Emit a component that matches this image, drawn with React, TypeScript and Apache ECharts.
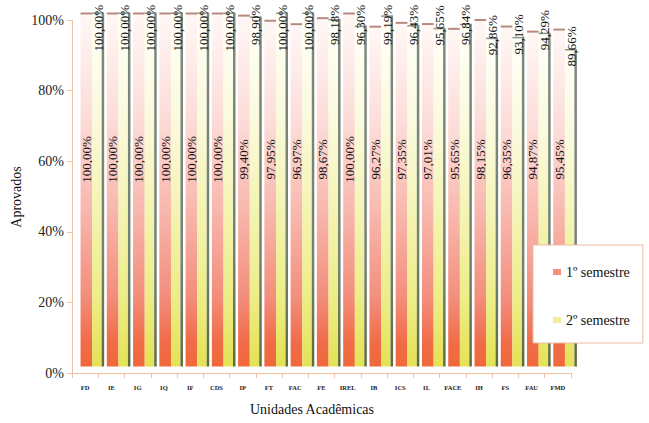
import React, { useEffect, useRef } from "react";
import * as echarts from "echarts";

const categories = ["FD", "IE", "IG", "IQ", "IF", "CDS", "IP", "FT", "FAC", "FE", "IREL", "IB", "ICS", "IL", "FACE", "IH", "FS", "FAU", "FMD"];
const sem1 = [100, 100, 100, 100, 100, 100, 99.4, 97.95, 96.97, 98.67, 100, 96.27, 97.35, 97.01, 95.65, 98.15, 96.35, 94.87, 95.45];
const sem2 = [100, 100, 100, 100, 100, 100, 98.9, 100, 100, 98.18, 96.3, 99.19, 96.43, 95.65, 96.84, 92.86, 93.1, 94.29, 89.66];
const seriesNames = ["1º semestre", "2º semestre"];
const yAxisTitle = "Aprovados";
const xAxisTitle = "Unidades Acadêmicas";

const FONT = "Liberation Serif";
const DEPTH = 6.5;
const LABEL1_AT = 60.5;
const AXIS_COLOR = "#efc2a4";

const fmt = (v: number) => v.toFixed(2).replace(".", ",") + "%";

const grad1 = () =>
  new echarts.graphic.LinearGradient(0, 0, 0, 1, [
    { offset: 0, color: "#fff8f6" },
    { offset: 0.3, color: "#fcdcd8" },
    { offset: 0.55, color: "#f8b8ae" },
    { offset: 0.8, color: "#f38e7c" },
    { offset: 0.93, color: "#f06c48" },
    { offset: 1, color: "#f0683a" },
  ]);
const grad2 = () =>
  new echarts.graphic.LinearGradient(0, 0, 0, 1, [
    { offset: 0, color: "#fffffa" },
    { offset: 0.3, color: "#fafadc" },
    { offset: 0.55, color: "#f4f4b4" },
    { offset: 0.8, color: "#eded88" },
    { offset: 1, color: "#e4e255" },
  ]);
const gradSide = () =>
  new echarts.graphic.LinearGradient(0, 0, 0, 1, [
    { offset: 0, color: "#7f897f" },
    { offset: 0.7, color: "#748070" },
    { offset: 1, color: "#5e6b3e" },
  ]);

const textStyle = (text: string, size = 13) => ({
  text,
  font: `${size}px ${FONT}`,
  fontSize: size,
  fontFamily: FONT,
  fill: "#111",
  align: "center",
  verticalAlign: "middle",
  textAlign: "center",
  textVerticalAlign: "middle",
});

function render1(params: any, api: any) {
  const i = api.value(0);
  const v = api.value(1);
  const base = api.coord([i, 0]);
  const top = api.coord([i, v]);
  const lab = api.coord([i, LABEL1_AT]);
  const bw = api.size([1, 0])[0];
  const x0 = base[0] - bw * 0.175;
  const w = bw * 0.445;
  return {
    type: "group",
    children: [
      { type: "rect", shape: { x: x0, y: top[1] - DEPTH, width: w, height: base[1] - top[1] }, style: { fill: grad1() } },
      { type: "rect", shape: { x: x0, y: top[1] - DEPTH - 1, width: w, height: 2 }, style: { fill: "#b9897f" } },
      { type: "text", x: x0 + w / 2, y: lab[1], rotation: Math.PI / 2, style: textStyle(fmt(v)) },
    ],
  };
}

function render2(params: any, api: any) {
  const i = api.value(0);
  const v = api.value(1);
  const base = api.coord([i, 0]);
  const top = api.coord([i, v]);
  const bw = api.size([1, 0])[0];
  const x0 = base[0] + bw * 0.267;
  const w = bw * 0.363;
  const sx = x0 + w;
  const sw = bw * 0.095;
  const txt = fmt(v);
  const len = txt.length * 6.65;
  const ly = Math.max(top[1] - 10, 5 + len / 2);
  return {
    type: "group",
    children: [
      { type: "rect", shape: { x: x0, y: top[1] - DEPTH, width: w, height: base[1] - top[1] }, style: { fill: grad2() } },
      { type: "rect", shape: { x: sx, y: top[1] - DEPTH - 1, width: sw, height: base[1] - top[1] + 1 }, style: { fill: gradSide() } },
      { type: "rect", shape: { x: x0, y: top[1] - DEPTH - 1, width: w, height: 1.5 }, style: { fill: "#8c968c" } },
      { type: "text", x: base[0] + bw * 0.5, y: ly, rotation: Math.PI / 2, style: textStyle(txt) },
    ],
  };
}

export default function App() {
  const ref = useRef<HTMLDivElement>(null);
  useEffect(() => {
    document.body.style.margin = "0";
    const chart = echarts.init(ref.current!, null, { renderer: "svg" });
    chart.setOption({
      animation: false,
      backgroundColor: "#ffffff",
      textStyle: { fontFamily: FONT },
      grid: { left: 72, right: 78, top: 20, bottom: 50 },
      xAxis: {
        type: "category",
        data: categories,
        boundaryGap: true,
        axisLine: { lineStyle: { color: AXIS_COLOR, width: 1 } },
        axisTick: { show: true, length: 5, lineStyle: { color: AXIS_COLOR } },
        axisLabel: { fontFamily: FONT, fontSize: 6.5, fontWeight: "bold", color: "#222", margin: 11, interval: 0 },
      },
      yAxis: {
        type: "value",
        min: 0,
        max: 100,
        interval: 20,
        axisLine: { show: true, lineStyle: { color: AXIS_COLOR, width: 1 } },
        axisTick: { show: true, length: 5, lineStyle: { color: AXIS_COLOR } },
        splitLine: { show: false },
        axisLabel: { formatter: "{value}%", fontFamily: FONT, fontSize: 14, color: "#222", margin: 8 },
      },
      legend: {
        orient: "vertical",
        left: 533,
        top: 245,
        padding: [20, 13, 16, 20],
        itemGap: 34,
        itemWidth: 8,
        itemHeight: 6,
        icon: "rect",
        backgroundColor: "#ffffff",
        borderColor: "#ecbca4",
        borderWidth: 1,
        borderRadius: 0,
        textStyle: { fontFamily: FONT, fontSize: 14, color: "#111" },
        data: seriesNames,
      },
      graphic: [
        {
          type: "text",
          x: 16,
          y: 197,
          rotation: Math.PI / 2,
          style: textStyle(yAxisTitle, 14),
        },
        {
          type: "text",
          x: 312,
          y: 409,
          style: textStyle(xAxisTitle, 14),
        },
      ],
      series: [
        {
          name: seriesNames[0],
          type: "custom",
          renderItem: render1,
          itemStyle: { color: "#f2907c" },
          encode: { x: 0, y: 1 },
          data: sem1.map((v, i) => [i, v]),
        },
        {
          name: seriesNames[1],
          type: "custom",
          renderItem: render2,
          itemStyle: { color: "#eeee96" },
          encode: { x: 0, y: 1 },
          data: sem2.map((v, i) => [i, v]),
        },
      ],
    });
    return () => chart.dispose();
  }, []);
  return <div ref={ref} style={{ width: 649, height: 423 }} />;
}
